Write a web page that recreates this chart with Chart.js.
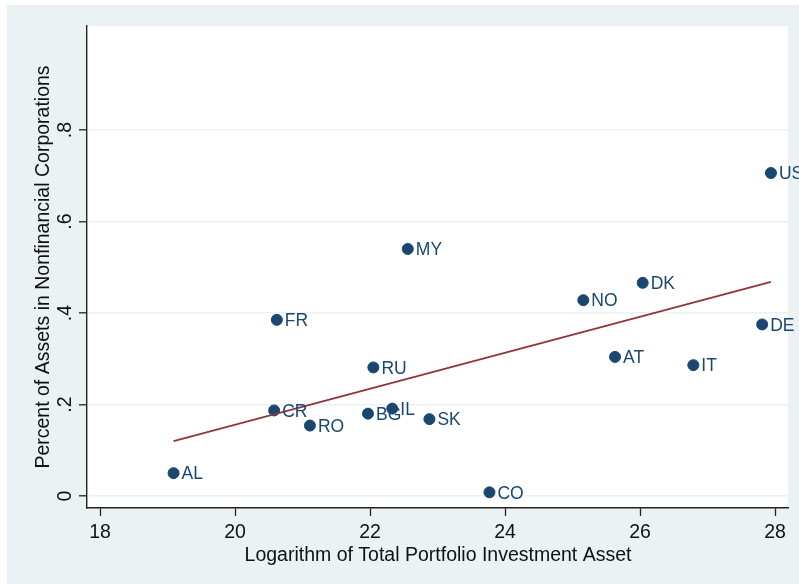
<!DOCTYPE html>
<html>
<head>
<meta charset="utf-8">
<script src="https://cdn.jsdelivr.net/npm/chart.js@4/dist/chart.umd.min.js"></script>
<style>
  html, body { margin: 0; padding: 0; background: #ffffff; }
  #wrap { width: 799px; height: 584px; }
</style>
</head>
<body>
<div id="wrap"><canvas id="c" width="799" height="584"></canvas></div>
<script>
// Country codes and their values
const countries = ['US','MY','DK','NO','FR','DE','AT','IT','RU','CR','IL','BG','RO','SK','AL','CO'];
const logPortfolioAssets = [27.94, 22.56, 26.04, 25.16, 20.62, 27.81, 25.63, 26.79, 22.05, 20.58, 22.33, 21.97, 21.11, 22.88, 19.09, 23.77];
const shareNonfinancial = [0.706, 0.540, 0.466, 0.428, 0.385, 0.375, 0.304, 0.286, 0.281, 0.187, 0.191, 0.180, 0.154, 0.168, 0.050, 0.008];

// Linear fit, endpoints at the smallest and largest x
const fitX = [19.09, 27.94];
const fitY = [0.120, 0.468];

// Axis ticks
const xTicks = [18, 20, 22, 24, 26, 28];
const yTicks = [0, 0.2, 0.4, 0.6, 0.8];
const yTickLabels = ['0', '.2', '.4', '.6', '.8'];

const xTitle = 'Logarithm of Total Portfolio Investment Asset';
const yTitle = 'Percent of Assets in Nonfinancial Corporations';

const FONT = '"Liberation Sans", Arial, sans-serif';
const BG = '#eaf2f3';
const NAVY = '#1a476f';
const MAROON = '#90353b';

const pointData = countries.map((c, i) => ({ x: logPortfolioAssets[i], y: shareNonfinancial[i] }));
const fitData = fitX.map((x, i) => ({ x: x, y: fitY[i] }));

const backgroundPlugin = {
  id: 'panelBackground',
  beforeDraw(chart) {
    const ctx = chart.ctx;
    const a = chart.chartArea;
    ctx.save();
    ctx.fillStyle = '#ffffff';
    ctx.fillRect(0, 0, chart.width, chart.height);
    ctx.fillStyle = BG;
    ctx.fillRect(7, 5, chart.width - 7, chart.height - 5);
    ctx.fillStyle = '#ffffff';
    ctx.fillRect(a.left, a.top, a.right - a.left, a.bottom - a.top);
    ctx.restore();
  }
};

const annotationPlugin = {
  id: 'textLayer',
  afterDraw(chart) {
    const ctx = chart.ctx;
    const ys = chart.scales.y;
    const xs = chart.scales.x;
    const a = chart.chartArea;
    ctx.save();

    // rotated y tick labels
    ctx.fillStyle = '#111111';
    ctx.font = '19.5px ' + FONT;
    ctx.textAlign = 'center';
    ctx.textBaseline = 'alphabetic';
    yTicks.forEach((v, i) => {
      const py = ys.getPixelForValue(v);
      ctx.save();
      ctx.translate(71, py);
      ctx.rotate(-Math.PI / 2);
      ctx.fillText(yTickLabels[i], 0, 0);
      ctx.restore();
    });

    // axis titles
    ctx.font = '19.5px ' + FONT;
    ctx.fillStyle = '#111111';
    ctx.textAlign = 'center';
    ctx.fillText(xTitle, (a.left + a.right) / 2 + 0.5, 560.5);
    ctx.save();
    ctx.translate(49, (a.top + a.bottom) / 2);
    ctx.rotate(-Math.PI / 2);
    ctx.fillText(yTitle, 0, 0);
    ctx.restore();

    // marker labels at 3 o'clock
    const meta = chart.getDatasetMeta(0);
    ctx.font = '17.5px ' + FONT;
    ctx.fillStyle = NAVY;
    ctx.textAlign = 'left';
    meta.data.forEach((el, i) => {
      ctx.fillText(countries[i], el.x + 8, el.y + 6.3);
    });
    ctx.restore();
  }
};

new Chart(document.getElementById('c'), {
  type: 'scatter',
  data: {
    datasets: [
      {
        label: 'share',
        data: pointData,
        backgroundColor: NAVY,
        borderColor: NAVY,
        borderWidth: 1,
        pointRadius: 5.5,
        order: 2
      },
      {
        label: 'fit',
        type: 'line',
        data: fitData,
        borderColor: MAROON,
        borderWidth: 1.8,
        pointRadius: 0,
        fill: false,
        order: 1
      }
    ]
  },
  options: {
    responsive: false,
    animation: false,
    devicePixelRatio: 1,
    layout: { padding: { top: 26, right: 11, left: 0, bottom: 0 } },
    plugins: {
      legend: { display: false },
      tooltip: { enabled: false },
      title: { display: false }
    },
    scales: {
      x: {
        type: 'linear',
        position: 'bottom',
        min: 18 - 13 / 67.5,
        max: 28 + 13 / 67.5,
        afterBuildTicks(scale) { scale.ticks = xTicks.map(v => ({ value: v })); },
        afterFit(scale) { scale.height = 76; },
        ticks: {
          color: '#111111',
          font: { family: FONT, size: 19.5 },
          padding: 5,
          maxRotation: 0,
          autoSkip: false,
          callback: v => String(v)
        },
        grid: {
          drawOnChartArea: false,
          drawTicks: true,
          tickLength: 8,
          tickColor: '#222222',
          tickWidth: 1.3
        },
        border: { display: true, color: '#222222', width: 1.4 }
      },
      y: {
        type: 'linear',
        position: 'left',
        min: -12 / 457.5,
        max: 0.8 + 104 / 457.5,
        afterBuildTicks(scale) { scale.ticks = yTicks.map(v => ({ value: v })); },
        afterFit(scale) { scale.width = 87; },
        ticks: { display: false },
        grid: {
          drawOnChartArea: true,
          color: BG,
          lineWidth: 1.6,
          drawTicks: true,
          tickLength: 8,
          tickColor: '#222222',
          tickWidth: 1.3
        },
        border: { display: true, color: '#222222', width: 1.4 }
      }
    }
  },
  plugins: [backgroundPlugin, annotationPlugin]
});
</script>
</body>
</html>
